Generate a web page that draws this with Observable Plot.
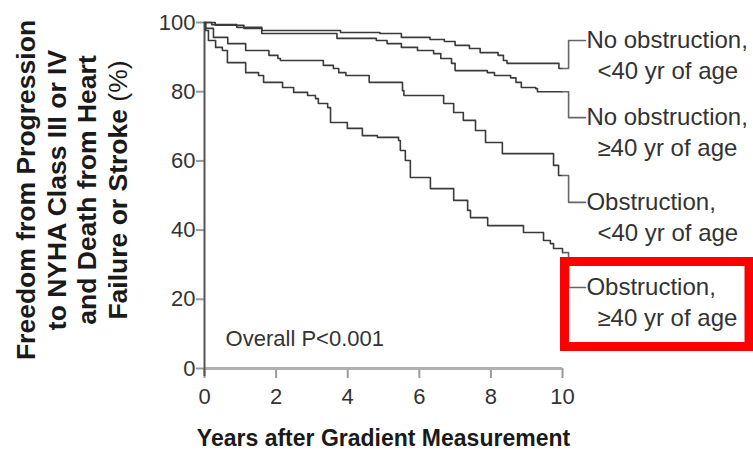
<!DOCTYPE html>
<html>
<head>
<meta charset="utf-8">
<script src="https://cdn.jsdelivr.net/npm/d3@7"></script>
<script src="https://cdn.jsdelivr.net/npm/@observablehq/plot@0.6"></script>
<style>
  html, body { margin: 0; padding: 0; background: #fff; }
  #chart { position: relative; width: 753px; height: 460px; }
</style>
</head>
<body>
<div id="chart"></div>
<script>
// Kaplan-Meier style step curves: freedom from NYHA class III/IV progression
// or death from heart failure or stroke, by obstruction status and age group.

const seriesNames = [
  "No obstruction, <40 yr",
  "No obstruction, ≥40 yr",
  "Obstruction, <40 yr",
  "Obstruction, ≥40 yr"
];

// years after gradient measurement at which each curve steps, and the value it steps to (%)
const noObsYoungT = [0, 0.2, 0.9, 1.6, 3.8, 4.9, 5.5, 6.3, 6.7, 7.0, 7.4, 7.7, 8.2, 8.35, 8.45, 9.9, 10];
const noObsYoungV = [100, 99.4, 98.6, 97.7, 97.1, 96.8, 95.7, 95.1, 94.5, 93.4, 92.5, 91.3, 90.5, 89.0, 88.2, 86.7, 86.7];

const noObsOldT = [0, 0.3, 1.1, 1.6, 3.7, 4.8, 5.1, 5.5, 5.95, 6.4, 6.6, 6.9, 7.0, 7.9, 8.1, 8.55, 8.7, 8.85, 9.25, 9.3, 10];
const noObsOldV = [100, 99.2, 98.3, 96.8, 95.4, 94.8, 93.9, 92.8, 91.9, 91.0, 89.6, 88.2, 86.1, 85.5, 84.7, 84.0, 82.7, 81.2, 80.9, 80.0, 80.0];

const obsYoungT = [0, 0.03, 0.25, 0.65, 1.15, 1.8, 2.05, 2.12, 3.32, 3.6, 3.75, 3.95, 4.6, 5.53, 5.57, 6.68, 6.96, 7.23, 7.57, 7.85, 8.32, 9.75, 9.89, 10];
const obsYoungV = [100, 98.3, 95.7, 93.9, 91.9, 90.5, 89.6, 89.0, 87.6, 86.7, 85.5, 84.7, 82.7, 80.3, 78.9, 76.6, 74.0, 71.7, 68.8, 65.3, 62.1, 58.7, 55.8, 55.8];

const obsOldT = [0, 0.03, 0.11, 0.31, 0.5, 0.64, 1.15, 1.51, 1.65, 2.18, 2.49, 2.88, 3.1, 3.18, 3.44, 3.52, 3.99, 4.41, 4.83, 5.42, 5.47, 5.61, 5.75, 6.31, 6.96, 7.35, 7.43, 7.91, 8.91, 9.47, 9.66, 9.75, 10];
const obsOldV = [100, 97.7, 94.8, 92.8, 91.9, 88.4, 85.5, 84.7, 82.7, 81.2, 79.8, 78.9, 78.0, 76.6, 75.4, 71.1, 69.4, 67.3, 66.8, 65.9, 63.0, 60.1, 55.2, 52.0, 48.6, 45.7, 43.6, 41.3, 39.3, 37.0, 36.1, 34.7, 33.5];

// curve labels on the right, and the value where each leader line meets its label
const labelLine1 = ["No obstruction,", "No obstruction,", "Obstruction,", "Obstruction,"];
const labelLine2 = ["<40 yr of age", "≥40 yr of age", "<40 yr of age", "≥40 yr of age"];
const labelAt = [94.8, 72.5, 48.0, 23.4];

const xTicks = [0, 2, 4, 6, 8, 10];
const yTicks = [0, 20, 40, 60, 80, 100];
const pValueText = "Overall P<0.001";
const xTitle = "Years after Gradient Measurement";
const yTitleLines = ["Freedom from Progression", "to NYHA Class III or IV", "and Death from Heart", "Failure or Stroke"];

const seriesT = [noObsYoungT, noObsOldT, obsYoungT, obsOldT];
const seriesV = [noObsYoungV, noObsOldV, obsYoungV, obsOldV];

const rows = seriesNames.flatMap((name, i) =>
  seriesT[i].map((t, j) => ({series: name, t, v: seriesV[i][j]}))
);

// leader lines: run on from the curve end, bend, and reach the label
const elbowX = 10.17, labelX = 10.64;
const leaders = seriesNames.flatMap((name, i) => {
  const end = seriesV[i][seriesV[i].length - 1];
  return [
    {series: name, x: 10, y: end},
    {series: name, x: elbowX, y: end},
    {series: name, x: elbowX, y: labelAt[i]},
    {series: name, x: labelX, y: labelAt[i]}
  ];
});
const labels = seriesNames.map((name, i) => ({series: name, l1: labelLine1[i], l2: labelLine2[i], at: labelAt[i]}));

const ink = "#3a3a3a";

const chart = Plot.plot({
  width: 753,
  height: 460,
  marginLeft: 204,
  marginRight: 191,
  marginTop: 22,
  marginBottom: 92,
  style: {fontFamily: "'Liberation Sans', Arial, sans-serif", fontSize: "22px", color: "#333", background: "#fff", overflow: "visible"},
  x: {domain: [0, 10]},
  y: {domain: [0, 100]},
  marks: [
    Plot.axisX({ticks: xTicks, tickSize: 10, tickPadding: 10, stroke: "#9a9a9a", strokeWidth: 2, fontSize: 22, fill: "#333", label: null}),
    Plot.axisY({ticks: yTicks, tickSize: 8, tickPadding: 1, stroke: "#9a9a9a", strokeWidth: 2, fontSize: 22, fill: "#333", label: null}),
    Plot.ruleY([0], {stroke: "#b0b0b0", strokeWidth: 3}),
    Plot.ruleX([0], {stroke: "#555", strokeWidth: 2, insetBottom: -8}),
    Plot.line(rows, {x: "t", y: "v", z: "series", curve: "step-after", stroke: ink, strokeWidth: 1.6}),
    Plot.line(leaders, {x: "x", y: "y", z: "series", stroke: "#666", strokeWidth: 1.6}),
    Plot.text(labels, {x: labelX, y: "at", text: "l1", textAnchor: "start", dx: 1, fontSize: 24, fill: "#333"}),
    Plot.text(labels, {x: labelX, y: "at", text: "l2", textAnchor: "start", dx: 12, dy: 31, fontSize: 24, fill: "#333"}),
    Plot.text([pValueText], {x: 0.59, y: 8.6, text: d => d, textAnchor: "start", fontSize: 22, fill: "#333"}),
    Plot.text([xTitle], {frameAnchor: "bottom", dy: 77, text: d => d, fontSize: 23, fontWeight: "bold", fill: "#1a1a1a"})
  ]
});

const svg = d3.select(chart);

// rotated, multi-line y-axis title
const yTitle = svg.append("g")
  .attr("transform", "translate(0,190) rotate(-90)")
  .attr("font-family", "'Liberation Sans', Arial, sans-serif")
  .attr("font-size", 26.5)
  .attr("font-weight", "bold")
  .attr("fill", "#1a1a1a")
  .attr("text-anchor", "middle");
yTitleLines.forEach((line, i) => {
  const t = yTitle.append("text").attr("x", 0).attr("y", 26 + i * 30.5).attr("dy", "0.35em").text(line);
  if (i === yTitleLines.length - 1) t.append("tspan").attr("font-weight", "normal").text(" (%)");
});

// highlight box round the last curve label
svg.append("rect")
  .attr("x", 564.5).attr("y", 261.5)
  .attr("width", 184.5).attr("height", 85)
  .attr("fill", "none").attr("stroke", "#ff0000").attr("stroke-width", 9);

document.getElementById("chart").append(chart);
</script>
</body>
</html>
